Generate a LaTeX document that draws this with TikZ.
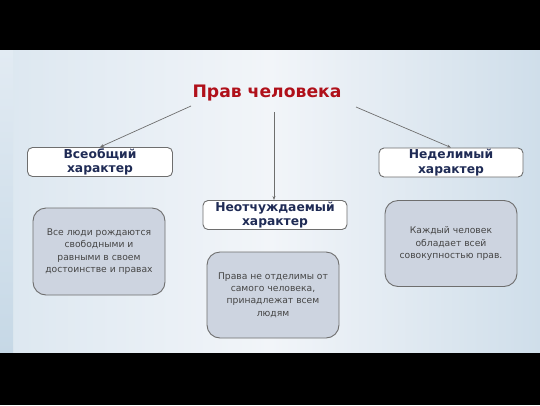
\documentclass[tikz,border=0pt]{standalone}
\usepackage{fontspec}
\setmainfont{DejaVu Sans}
\usetikzlibrary{arrows.meta}
\definecolor{titlered}{HTML}{B0101A}
\definecolor{navy}{HTML}{1F2B55}
\definecolor{graytext}{HTML}{454545}
\definecolor{boxfill}{HTML}{CDD4E0}
\definecolor{boxline}{HTML}{6E6E6E}
\definecolor{bgleft}{HTML}{DCE7F0}
\definecolor{bgmid}{HTML}{F2F5F9}
\definecolor{bgright}{HTML}{CFDEEA}
\definecolor{striptop}{HTML}{E2EBF3}
\definecolor{stripbot}{HTML}{C6D8E6}
\tikzset{
  headbox/.style={draw=boxline, line width=0.9pt, fill=white, rounded corners=5pt,
    minimum height=29pt, align=center, text=navy, font=\bfseries\fontsize{12.3}{14.5}\selectfont, inner sep=0pt},
  infobox/.style={draw=boxline, line width=0.9pt, fill=boxfill, rounded corners=13pt,
    align=center, text=graytext, font=\fontsize{9.2}{12.4}\selectfont, inner sep=0pt},
  link/.style={draw=boxline, line width=0.7pt, -{Stealth[length=4pt,width=3pt]}},
}
\begin{document}
\begin{tikzpicture}[x=1pt,y=-1pt]
\useasboundingbox (0,0) rectangle (540,405);
\fill[black] (0,0) rectangle (540,405);
\shade[left color=bgleft, right color=bgright, middle color=bgmid] (0,50) rectangle (540,353);
\shade[top color=striptop, bottom color=stripbot] (0,50) rectangle (13,353);
\fill[black] (0,353) rectangle (540,405);

\node[text=titlered, font=\bfseries\fontsize{17.2}{19}\selectfont] (title) at (267,93) {Прав человека};

\node[headbox, minimum width=145pt] (h1) at (100,162) {Всеобщий\\характер};
\node[headbox, minimum width=144pt] (h2) at (275,215) {Неотчуждаемый\\характер};
\node[headbox, minimum width=144pt] (h3) at (451,162.5) {Неделимый\\характер};

\node[infobox, minimum width=132pt, minimum height=87pt] (b1) at (99,251.5) {Все люди рождаются\\свободными и\\равными в своем\\достоинстве и правах};
\node[infobox, minimum width=132pt, minimum height=86pt] (b2) at (273,295) {Права не отделимы от\\самого человека,\\принадлежат всем\\людям};
\node[infobox, minimum width=132pt, minimum height=86pt] (b3) at (451,243.5) {Каждый человек\\обладает всей\\совокупностью прав.};

\coordinate (s1) at (191,106);
\coordinate (s2) at (274,112);
\coordinate (s3) at (356,107);
\draw[link] (s1) -- (h1.north);
\draw[link] (s2) -- (s2 |- h2.north);
\draw[link] (s3) -- (h3.north);
\end{tikzpicture}
\end{document}
